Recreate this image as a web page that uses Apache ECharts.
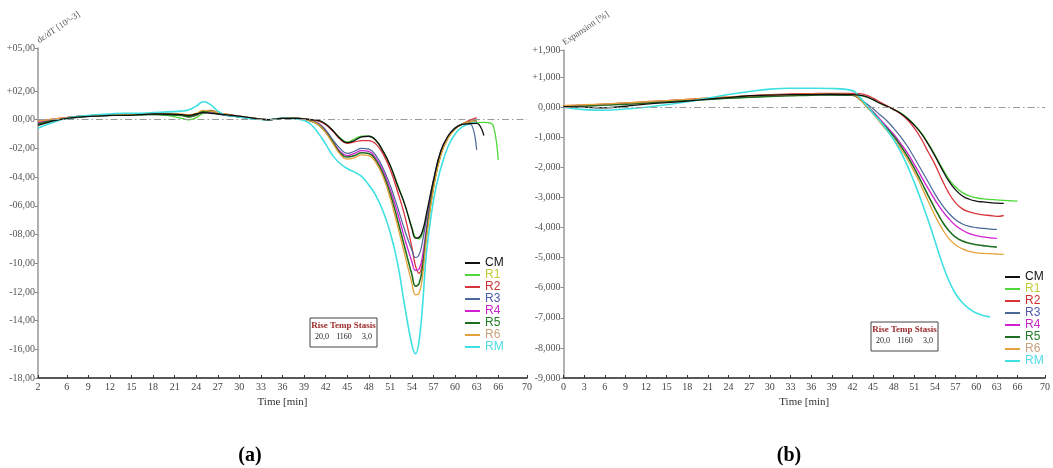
<!DOCTYPE html>
<html><head><meta charset="utf-8">
<script src="https://cdn.jsdelivr.net/npm/echarts@6/dist/echarts.min.js"></script>
<style>html,body{margin:0;padding:0;background:#fff}#c{width:1053px;height:468px}</style>
</head><body><div id="c"></div>
<script>
const seriesNames = ['CM','R1','R2','R3','R4','R5','R6','RM'];

// ---- chart (a): dε/dT ----
const tA = [2,4,6,8,10,12,14,16,18,20,22,23,24,25,26,27,28,30,32,34,36,38,
  39,40,41,42,43,44,45,46,47,48,49,50,51,52,53,54,54.5,55,55.5,56,57,58,59,60,61,62,63,64,65,65.5,66];
const aCM = [-0.4,-0.1,0.1,0.2,0.25,0.3,0.3,0.35,0.4,0.4,0.35,0.3,0.4,0.5,0.45,0.4,0.35,0.25,0.1,0.0,0.1,0.1,
  0.05,0.0,-0.05,-0.3,-0.75,-1.3,-1.6,-1.45,-1.2,-1.15,-1.45,-2.2,-3.2,-4.6,-5.9,-7.6,-8.25,-8.2,-7.7,-6.6,-4.2,-2.2,-1.15,-0.6,-0.33,-0.28,-0.25,-1.1,null,null,null];
const aR1 = [-0.2,0.0,0.15,0.25,0.3,0.3,0.3,0.35,0.35,0.3,0.1,0.0,0.15,0.45,0.5,0.45,0.35,0.2,0.1,0.0,0.1,0.1,
  0.05,0.0,-0.05,-0.3,-0.75,-1.25,-1.55,-1.35,-1.15,-1.15,-1.45,-2.2,-3.2,-4.5,-5.9,-7.5,-8.2,-8.3,-7.9,-7.0,-4.6,-2.4,-1.25,-0.6,-0.33,-0.25,-0.2,-0.18,-0.25,-0.8,-2.8];
const aR2 = [-0.1,0.05,0.15,0.25,0.3,0.35,0.35,0.4,0.4,0.4,0.35,0.2,0.3,0.6,0.65,0.5,0.4,0.25,0.1,0.0,0.1,0.1,
  0.05,0.0,-0.1,-0.35,-0.8,-1.35,-1.65,-1.55,-1.45,-1.45,-1.7,-2.4,-3.5,-5.0,-6.7,-8.9,-10.2,-10.7,-9.8,-8.0,-4.6,-2.4,-1.25,-0.6,-0.3,-0.05,0.15,null,null,null,null];
const aR3 = [-0.3,-0.05,0.1,0.2,0.25,0.3,0.35,0.35,0.35,0.35,0.3,0.25,0.35,0.5,0.5,0.4,0.3,0.2,0.05,0.0,0.1,0.1,
  0.05,-0.05,-0.25,-0.7,-1.4,-2.0,-2.35,-2.2,-2.0,-2.05,-2.5,-3.4,-4.6,-6.1,-7.7,-9.1,-9.6,-9.4,-8.4,-6.9,-4.2,-2.2,-1.15,-0.55,-0.3,-0.25,-2.1,null,null,null,null];
const aR4 = [-0.2,0.0,0.15,0.25,0.3,0.35,0.35,0.4,0.4,0.4,0.35,0.3,0.4,0.55,0.55,0.45,0.35,0.2,0.1,0.0,0.1,0.1,
  0.05,-0.1,-0.3,-0.8,-1.5,-2.2,-2.5,-2.35,-2.15,-2.2,-2.7,-3.6,-4.9,-6.5,-8.3,-9.9,-10.5,-10.4,-9.4,-7.6,-4.4,-2.3,-1.2,-0.6,-0.3,-0.15,-0.1,null,null,null,null];
const aR5 = [-0.3,-0.05,0.1,0.2,0.3,0.3,0.35,0.35,0.4,0.35,0.3,0.2,0.35,0.6,0.6,0.45,0.35,0.2,0.1,0.0,0.1,0.1,
  0.05,-0.1,-0.35,-0.85,-1.55,-2.3,-2.6,-2.5,-2.3,-2.35,-2.85,-3.8,-5.2,-7.0,-8.9,-10.8,-11.6,-11.4,-10.2,-8.0,-4.6,-2.4,-1.25,-0.6,-0.3,-0.15,-0.1,null,null,null,null];
const aR6 = [-0.1,0.05,0.15,0.25,0.3,0.35,0.4,0.4,0.45,0.45,0.4,0.35,0.45,0.65,0.6,0.5,0.4,0.25,0.1,0.0,0.1,0.1,
  0.05,-0.1,-0.35,-0.9,-1.65,-2.4,-2.75,-2.65,-2.45,-2.5,-3.0,-4.0,-5.5,-7.4,-9.4,-11.4,-12.2,-12.1,-10.8,-8.4,-4.8,-2.5,-1.3,-0.65,-0.3,-0.15,-0.1,null,null,null,null];
const aRM = [-0.6,-0.2,0.1,0.25,0.35,0.4,0.45,0.45,0.5,0.55,0.6,0.7,0.95,1.25,1.05,0.6,0.35,0.2,0.05,0.0,0.1,0.05,
  -0.05,-0.35,-0.95,-1.7,-2.5,-3.05,-3.4,-3.65,-3.95,-4.55,-5.3,-6.4,-7.9,-10.0,-13.0,-15.7,-16.3,-15.4,-12.8,-9.4,-5.6,-3.4,-1.9,-1.0,-0.5,-0.3,-0.2,null,null,null,null];
const xTicksA = [2,6,9,12,15,18,21,24,27,30,33,36,39,42,45,48,51,54,57,60,63,66,70];
const yTicksA = [-18,-16,-14,-12,-10,-8,-6,-4,-2,0,2,5];

// ---- chart (b): Expansion ----
const tB = [0,3,6,9,12,15,18,21,24,27,30,33,36,39,
  42,43,44,45,46,47,48,49,50,51,52,53,54,55,56,57,58,59,60,61,62,63,64,65,66];
const bCM = [0.02,0.0,-0.02,0.03,0.1,0.15,0.2,0.27,0.32,0.38,0.4,0.42,0.42,0.43,
  0.42,0.4,0.35,0.25,0.13,0.03,-0.08,-0.2,-0.38,-0.6,-0.87,-1.22,-1.62,-2.05,-2.45,-2.75,-2.95,-3.06,-3.12,-3.15,-3.17,-3.19,-3.2,null,null];
const bR1 = [0.03,0.05,0.08,0.12,0.16,0.2,0.24,0.28,0.32,0.35,0.38,0.4,0.42,0.43,
  0.42,0.4,0.34,0.25,0.13,0.03,-0.07,-0.19,-0.36,-0.58,-0.85,-1.2,-1.58,-2.0,-2.38,-2.65,-2.84,-2.95,-3.01,-3.05,-3.07,-3.08,-3.1,-3.11,-3.12];
const bR2 = [0.05,0.07,0.1,0.14,0.18,0.22,0.26,0.3,0.34,0.38,0.42,0.44,0.45,0.46,
  0.46,0.45,0.4,0.3,0.17,0.05,-0.07,-0.22,-0.42,-0.7,-1.05,-1.48,-1.9,-2.4,-2.85,-3.18,-3.38,-3.48,-3.54,-3.58,-3.6,-3.63,-3.6,null,null];
const bR3 = [0.03,0.05,0.08,0.11,0.15,0.19,0.23,0.27,0.3,0.34,0.37,0.39,0.4,0.41,
  0.4,0.3,0.12,-0.05,-0.25,-0.45,-0.7,-0.98,-1.3,-1.68,-2.08,-2.48,-2.88,-3.24,-3.52,-3.74,-3.88,-3.96,-4.0,-4.03,-4.05,-4.06,null,null,null];
const bR4 = [0.04,0.06,0.09,0.12,0.16,0.2,0.24,0.28,0.31,0.35,0.38,0.4,0.41,0.42,
  0.4,0.28,0.05,-0.15,-0.4,-0.65,-0.9,-1.2,-1.52,-1.9,-2.3,-2.7,-3.08,-3.42,-3.7,-3.93,-4.09,-4.2,-4.27,-4.31,-4.34,-4.36,null,null,null];
const bR5 = [0.03,0.04,0.07,0.1,0.14,0.18,0.22,0.26,0.3,0.33,0.36,0.38,0.4,0.41,
  0.4,0.28,0.05,-0.18,-0.45,-0.7,-0.97,-1.28,-1.63,-2.03,-2.47,-2.93,-3.37,-3.78,-4.1,-4.32,-4.45,-4.52,-4.57,-4.6,-4.63,-4.65,null,null,null];
const bR6 = [0.05,0.08,0.11,0.14,0.18,0.22,0.26,0.3,0.34,0.37,0.4,0.42,0.43,0.44,
  0.42,0.28,0.02,-0.22,-0.5,-0.78,-1.06,-1.38,-1.73,-2.15,-2.62,-3.12,-3.6,-4.02,-4.36,-4.58,-4.71,-4.79,-4.84,-4.86,-4.87,-4.88,-4.89,null,null];
const bRM = [0.0,-0.08,-0.1,-0.06,0.0,0.08,0.18,0.3,0.42,0.52,0.6,0.63,0.63,0.62,
  0.55,0.35,0.08,-0.2,-0.45,-0.75,-1.08,-1.48,-1.95,-2.5,-3.1,-3.75,-4.45,-5.15,-5.75,-6.2,-6.5,-6.7,-6.84,-6.92,-6.97,null,null,null,null];
const xTicksB = [0,3,6,9,12,15,18,21,24,27,30,33,36,39,42,45,48,51,54,57,60,63,66,70];
const yTicksB = [-9,-8,-7,-6,-5,-4,-3,-2,-1,0,1,1.9];

const boxHead = 'Rise Temp Stasis';
const boxVals = ['20,0','1160','3,0'];

// ---- styles ----
const lineColors = ['#111111','#4fd83a','#d8343c','#4a6898','#d020d0','#1f6e22','#e3a23c','#3fe0e2'];
const textColors = ['#111111','#c2cc3a','#cc3030','#4f5cae','#c828c8','#237a25','#c8a27c','#4fdce6'];
const lineWidths = [1.3,1.3,1.3,1.2,1.3,1.6,1.3,1.6];
const serif = '"Liberation Serif","DejaVu Serif",serif';

const valsA = [aCM,aR1,aR2,aR3,aR4,aR5,aR6,aRM];
const valsB = [bCM,bR1,bR2,bR3,bR4,bR5,bR6,bRM];

function fmtA(v){ const s = v>0?'+':(v<0?'-':''); const a=Math.abs(v); return s+(a<10?'0':'')+a+',00'; }
function fmtB(v){ const s = v>0?'+':(v<0?'-':''); return s+Math.abs(v).toFixed(3).replace('.',','); }

const zeroLine = {silent:true, symbol:['none','none'], label:{show:false},
  lineStyle:{color:'#9a9a9a', type:[7,3,1.5,3], width:1}, data:[{yAxis:0}]};

const series = [];
seriesNames.forEach((n,i)=>{
  series.push({name:n, type:'line', xAxisIndex:0, yAxisIndex:0, symbol:'none', smooth:0.45,
    data: tA.map((t,j)=>[t, valsA[i][j]]), lineStyle:{color:lineColors[i], width:lineWidths[i]}, itemStyle:{color:lineColors[i]},
    markLine: i===0 ? zeroLine : undefined, z: i===0?3:2});
});
seriesNames.forEach((n,i)=>{
  series.push({name:n, type:'line', xAxisIndex:1, yAxisIndex:1, symbol:'none', smooth:0.45,
    data: tB.map((t,j)=>[t, valsB[i][j]]), lineStyle:{color:lineColors[i], width:lineWidths[i]}, itemStyle:{color:lineColors[i]},
    markLine: i===0 ? zeroLine : undefined, z: i===0?3:2});
});

function legendData(){ return seriesNames.map((n,i)=>({name:n, textStyle:{color:textColors[i]}, itemStyle:{color:lineColors[i]}})); }
const legendCommon = {orient:'vertical', icon:'rect', itemWidth:15, itemHeight:2, itemGap:0,
  textStyle:{fontFamily:'"Liberation Sans",Arial,sans-serif', fontSize:12, lineHeight:12, padding:[0,0,0,0]}, padding:0, selectedMode:false};

function xAxisOf(idx, min, max, ticks){
  return {type:'value', gridIndex:idx, min:min, max:max, interval:1,
    name:'Time [min]', nameLocation:'middle', nameGap:14,
    nameTextStyle:{fontFamily:serif, fontSize:11, color:'#333'},
    axisLine:{show:true, onZero:false, lineStyle:{color:'#222', width:1.5}},
    axisTick:{show:true, inside:true, length:3, customValues:ticks, lineStyle:{color:'#333'}},
    axisLabel:{customValues:ticks, fontFamily:serif, fontSize:10, color:'#444', margin:4},
    splitLine:{show:false}};
}
function yAxisOf(idx, min, max, ticks, fmt, name){
  return {type:'value', gridIndex:idx, min:min, max:max, interval:0.1,
    name:name, nameLocation:'end', nameGap:-2, nameRotate:34,
    nameTextStyle:{fontFamily:serif, fontSize:9, color:'#555'},
    axisLine:{show:true, onZero:false, lineStyle:{color:'#999', width:1.5}},
    axisTick:{show:true, inside:false, length:3, customValues:ticks, lineStyle:{color:'#888'}},
    axisLabel:{customValues:ticks, formatter:fmt, fontFamily:serif, fontSize:10, color:'#555', margin:3},
    splitLine:{show:false}};
}

function box(x,y){
  return {type:'group', x:x, y:y, children:[
    {type:'rect', shape:{x:0,y:0,width:67,height:29}, style:{fill:'#fff', stroke:'#444', lineWidth:1}},
    {type:'text', x:33.5, y:8, style:{text:boxHead, fill:'#9c2a2a', font:'bold 9px '+serif, align:'center', verticalAlign:'middle'}},
    {type:'text', x:5, y:19, style:{text:boxVals[0], fill:'#222', font:'8px '+serif, align:'left', verticalAlign:'middle'}},
    {type:'text', x:34, y:19, style:{text:boxVals[1], fill:'#222', font:'8px '+serif, align:'center', verticalAlign:'middle'}},
    {type:'text', x:62, y:19, style:{text:boxVals[2], fill:'#222', font:'8px '+serif, align:'right', verticalAlign:'middle'}}
  ]};
}

const chart = echarts.init(document.getElementById('c'), null, {renderer:'canvas'});
chart.setOption({
  animation:false,
  backgroundColor:'#fff',
  grid:[{left:38, top:48, width:489, height:330}, {left:563.5, top:50, width:488, height:328}],
  xAxis:[xAxisOf(0,2,70,xTicksA), xAxisOf(1,0,70,xTicksB)],
  yAxis:[yAxisOf(0,-18,5,yTicksA,fmtA,'dε/dT [10^-3]'), yAxisOf(1,-9,1.9,yTicksB,fmtB,'Expansion [%]')],
  legend:[Object.assign({left:465, top:257, data:legendData()}, legendCommon),
          Object.assign({left:1005, top:271, data:legendData()}, legendCommon)],
  series: series,
  graphic:[
    box(310,318), box(871,322),
    {type:'text', x:250, y:456, style:{text:'(a)', font:'bold 20px '+serif, fill:'#000', align:'center', verticalAlign:'middle'}},
    {type:'text', x:789, y:456, style:{text:'(b)', font:'bold 20px '+serif, fill:'#000', align:'center', verticalAlign:'middle'}}
  ]
});
</script></body></html>
